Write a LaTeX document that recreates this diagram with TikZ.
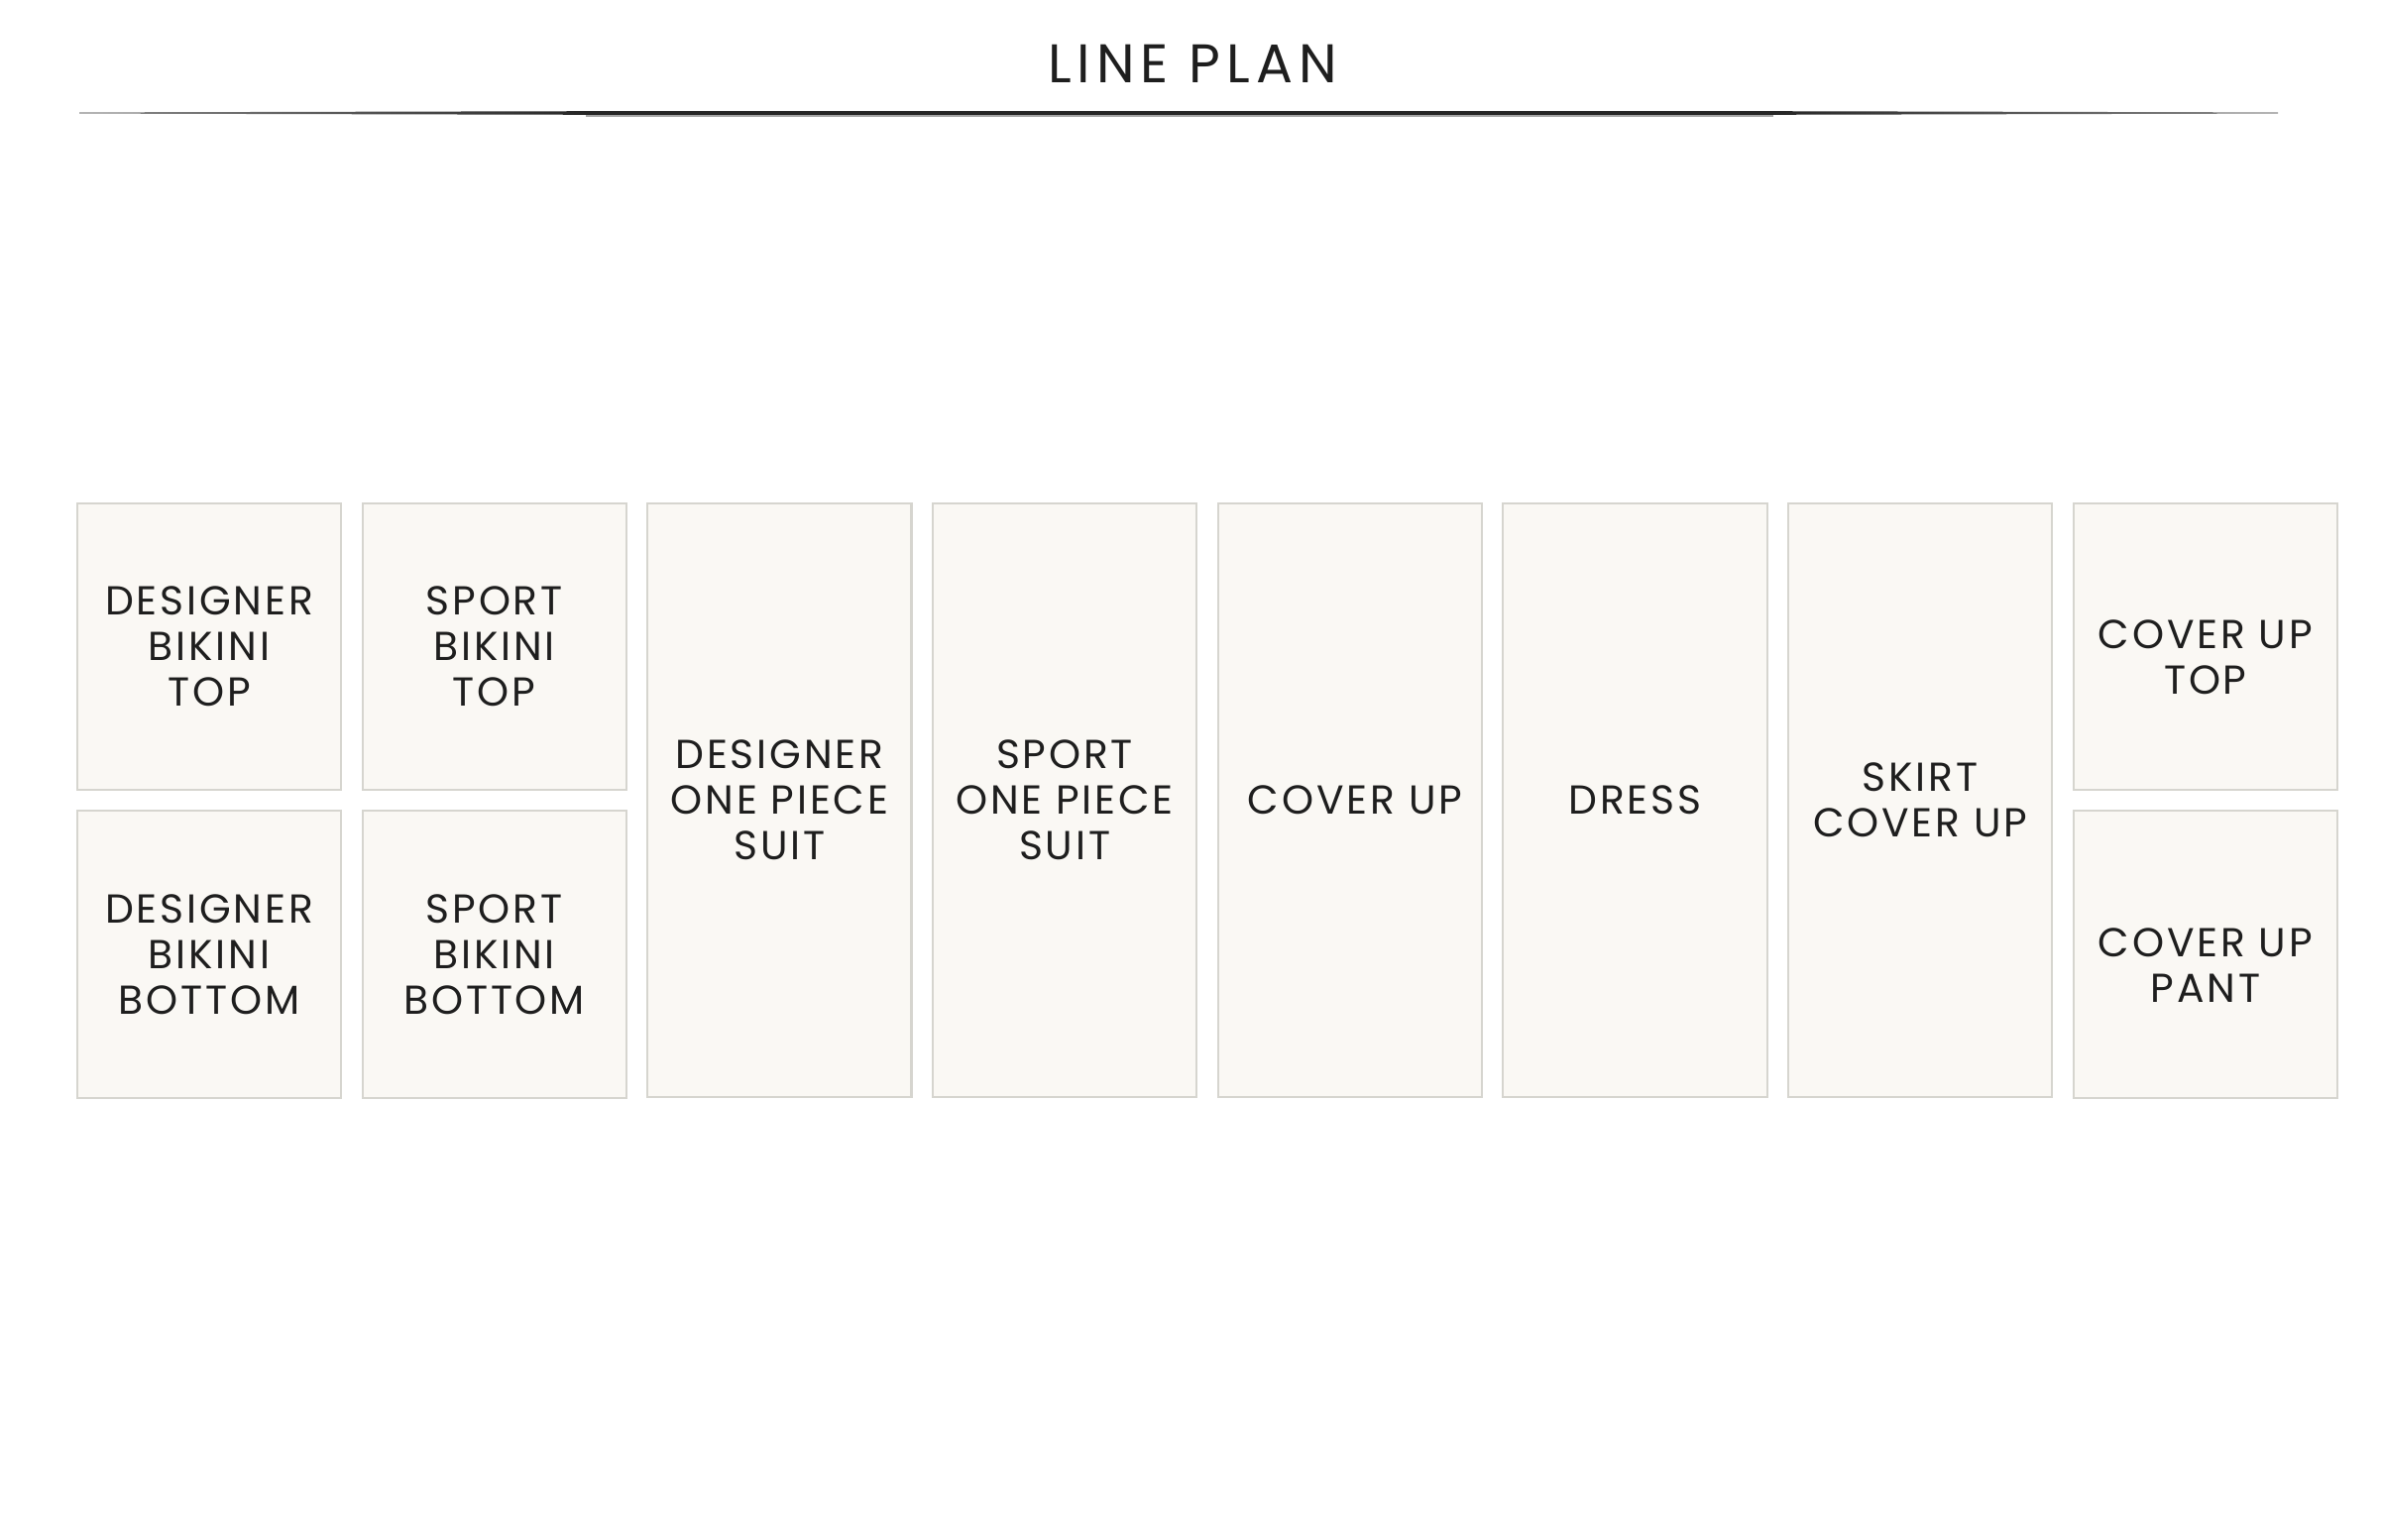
\documentclass[tikz,border=0pt]{standalone}
\usepackage{fontspec}
\usepackage{tikz}
\usetikzlibrary{positioning}
\usepackage{xcolor}

\newfontfamily\titlefont[LetterSpace=11]{Poppins}
\newfontfamily\tilefont[LetterSpace=7]{Poppins}

\definecolor{tilefill}{HTML}{FAF8F4}
\definecolor{tileline}{HTML}{D6D5CF}
\definecolor{inkdark}{HTML}{1E1E1E}
\definecolor{ruledark}{HTML}{262626}

\begin{document}
\begin{tikzpicture}[
    x=0.01cm, y=-0.01cm,
    tiletext/.style={align=center, text=inkdark, font=\tilefont\fontsize{11.6}{13.1}\selectfont, inner sep=0pt},
    tile/.style={tiletext, draw=tileline, line width=0.6pt, fill=tilefill, minimum width=2.66cm},
    halftile/.style={tile, minimum height=2.89cm},
    fulltile/.style={tile, minimum height=5.99cm}
]
\useasboundingbox (0,0) rectangle (2402,1554);

% Title
\node[anchor=base, text=inkdark, font=\titlefont\fontsize{15.6}{18}\selectfont] (title) at (1203,83) {LINE PLAN};

% Rule under title
\fill[black!35] (591,114) rectangle (1789,117.5);
\shade[left color=black!45, right color=ruledark] (80,113.4) -- (591,112.2) -- (591,115.8) -- (80,114.6) -- cycle;
\fill[ruledark] (590,112.2) rectangle (1790,115.8);
\shade[left color=ruledark, right color=black!45] (1789,112.2) -- (2298,113.4) -- (2298,114.6) -- (1789,115.8) -- cycle;

% Bikini tops and bottoms
\node[halftile] (dbtop) at (211,652.5) {DESIGNER\\BIKINI\\TOP};
\node[halftile] (dbbot) at (211,963) {DESIGNER\\BIKINI\\BOTTOM};
\node[halftile] (sbtop) at (498.7,652.5) {SPORT\\BIKINI\\TOP};
\node[halftile] (sbbot) at (498.7,963) {SPORT\\BIKINI\\BOTTOM};

% One piece suits
\node[fulltile] (dsuit) at (786.4,807.5) {DESIGNER\\ONE PIECE\\SUIT};
\node[fulltile] (ssuit) at (1074.1,807.5) {SPORT\\ONE PIECE\\SUIT};

% Cover ups
\node[fulltile] (coverup) at (1361.8,807.5) {};
\node[tiletext] (coverupname) at (1367,807.5) {COVER UP};
\node[fulltile] (dress) at (1649.5,807.5) {DRESS};
\node[fulltile] (skirt) at (1937.2,807.5) {SKIRT\\COVER UP};

% Cover up separates
\node[halftile] (cutop) at (2224.9,652.5) {};
\node[tiletext] (cutopname) at (2224.9,663) {COVER UP\\TOP};
\node[halftile] (cupant) at (2224.9,963) {};
\node[tiletext] (cupantname) at (2224.9,974) {COVER UP\\PANT};

\end{tikzpicture}
\end{document}
